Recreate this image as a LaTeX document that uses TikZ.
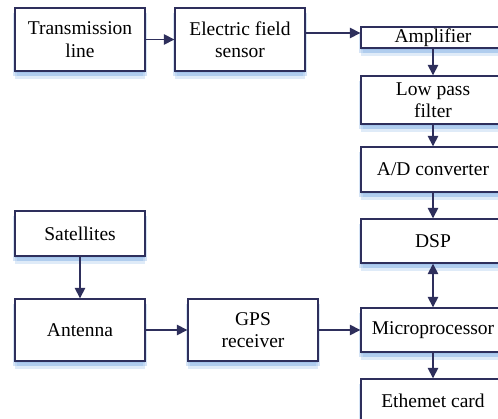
\documentclass[tikz,border=0pt]{standalone}
\usepackage{fontspec}
\setmainfont{Liberation Serif}
\usetikzlibrary{arrows.meta,shadows}
\definecolor{navy}{RGB}{46,47,92}
\definecolor{haze}{RGB}{150,188,232}

\begin{document}
\begin{tikzpicture}[x=1pt,y=-1pt,>={Triangle[length=10.5pt,width=10.5pt]},
    glow/.style={general shadow={fill=haze,opacity=.5,shadow yshift=-2.5pt},
        general shadow={fill=haze,opacity=.4,shadow yshift=-5pt,shadow xshift=2pt},
        general shadow={fill=haze,opacity=.4,shadow yshift=-5pt,shadow xshift=-2pt},
        general shadow={fill=haze,opacity=.3,shadow yshift=-8pt}},
    blk/.style={glow,draw=navy,line width=1.4pt,fill=white,align=center,inner sep=0pt,
        minimum width=#1,font=\fontsize{19.5}{22.5}\selectfont},
    blk/.default=130pt,
    lnk/.style={draw=navy,line width=1.6pt,->}]
                \useasboundingbox (0,0) rectangle (498,419);
                \clip (0,0) rectangle (498,419);
                \node[blk,minimum height=63pt] (line) at (80,39.5) {Transmission\\line};
                \node[blk,minimum height=63pt] (sensor) at (240,39.5) {Electric field\\sensor};
                \node[blk,minimum height=45pt] (sat) at (80,233.5) {Satellites};
                \node[blk,minimum height=62pt] (ant) at (80,330) {Antenna};
                \node[blk,minimum height=62pt] (gps) at (253,330) {GPS\\receiver};
                \node[blk=144pt,minimum height=21pt] (amp) at (433,37.5) {Amplifier};
                \node[blk=144pt,minimum height=48pt] (lpf) at (433,100) {Low pass\\filter};
                \node[blk=144pt,minimum height=45pt] (adc) at (433,169.5) {A/D converter};
                \node[blk=144pt,minimum height=44pt] (dsp) at (433,241) {DSP};
                \node[blk=144pt,minimum height=44pt] (micro) at (433,330) {Microprocessor};
                \node[blk=144pt,minimum height=44pt] (eth) at (433,401) {Ethemet card};
                \draw[lnk] ([yshift=4.5pt]sensor.east |- amp.west) -- ([yshift=4.5pt]amp.west);
                \draw[lnk,<->] (dsp) -- (micro);
                \foreach \a/\b in {line/sensor, amp/lpf, lpf/adc, adc/dsp, micro/eth, sat/ant, ant/gps, gps/micro}
                    \draw[lnk] (\a) -- (\b);
            \end{tikzpicture}
\end{document}
